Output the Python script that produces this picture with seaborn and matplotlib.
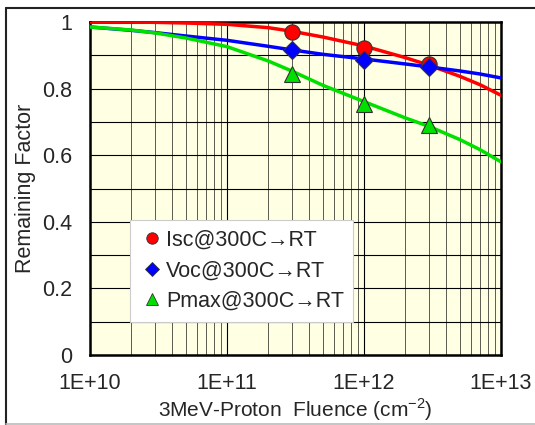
import numpy as np
import pandas as pd
import matplotlib
matplotlib.use("Agg")
import matplotlib.pyplot as plt
import seaborn as sns
from matplotlib.ticker import LogLocator, FixedLocator, NullFormatter, FuncFormatter

# measured points
fluence_pts = [3e11, 1e12, 3e12]
isc_pts = [0.970, 0.921, 0.875]
voc_pts = [0.915, 0.885, 0.866]
pmax_pts = [0.845, 0.755, 0.690]

# fitted curves
fluence_fit = [1e10, 2e10, 3e10, 5e10, 1e11, 2e11, 3e11, 5e11, 1e12, 2e12, 3e12, 5e12, 7e12, 1e13]
isc_fit = [1.000, 1.000, 0.999, 0.997, 0.993, 0.983, 0.972, 0.955, 0.928, 0.893, 0.870, 0.837, 0.812, 0.780]
voc_fit = [0.985, 0.975, 0.968, 0.958, 0.945, 0.927, 0.916, 0.903, 0.889, 0.874, 0.865, 0.853, 0.844, 0.832]
pmax_fit = [0.985, 0.976, 0.967, 0.952, 0.926, 0.883, 0.852, 0.810, 0.761, 0.712, 0.686, 0.647, 0.617, 0.580]

labels = ["Isc@300C→RT", "Voc@300C→RT", "Pmax@300C→RT"]
colors = ["#FF0000", "#0000FF", "#00E000"]
markers = ["o", "D", "^"]

sns.set_style("white")
plt.rcParams["font.family"] = ["Liberation Sans", "DejaVu Sans"]
plt.rcParams["mathtext.fontset"] = "custom"
plt.rcParams["mathtext.rm"] = "Liberation Sans"

fig = plt.figure(figsize=(5.35, 4.25), dpi=100)
ax = fig.add_axes([90 / 535, 1 - 355 / 425, 411 / 535, 333 / 425])
ax.set_facecolor("#FFFFE3")

fits = pd.DataFrame({"x": fluence_fit * 3,
                     "y": isc_fit + voc_fit + pmax_fit,
                     "s": [labels[0]] * len(fluence_fit) + [labels[1]] * len(fluence_fit) + [labels[2]] * len(fluence_fit)})
pts = pd.DataFrame({"x": fluence_pts * 3,
                    "y": isc_pts + voc_pts + pmax_pts,
                    "s": [labels[0]] * 3 + [labels[1]] * 3 + [labels[2]] * 3})

ax.set_xscale("log")
for lab, c in zip(labels, colors):
    sub = fits[fits.s == lab]
    sns.lineplot(x=sub.x, y=sub.y, ax=ax, color=c, lw=2.5, legend=False, zorder=3)

sizes = [11, 9, 11]
for lab, c, m, ms in zip(labels, colors, markers, sizes):
    sub = pts[pts.s == lab]
    ax.plot(sub.x, sub.y, ls="none", marker=m, ms=ms, mfc=c, mec="#333333", mew=0.8,
            zorder=4)

ax.set_xlim(1e10, 1e13)
ax.set_ylim(0, 1)
ax.xaxis.set_major_locator(LogLocator(base=10, numticks=10))
ax.xaxis.set_minor_locator(LogLocator(base=10, subs=np.arange(2, 10), numticks=20))
ax.xaxis.set_minor_formatter(NullFormatter())
ax.xaxis.set_major_formatter(FuncFormatter(lambda v, p: "1E+%d" % round(np.log10(v))))
ax.yaxis.set_major_locator(FixedLocator([0, 0.2, 0.4, 0.6, 0.8, 1.0]))
ax.yaxis.set_major_formatter(FuncFormatter(lambda v, p: "%g" % v))
ax.yaxis.set_minor_locator(FixedLocator([0.1, 0.3, 0.5, 0.7, 0.9]))

ax.grid(which="major", axis="both", color="black", lw=0.8)
ax.grid(which="minor", axis="x", color="#5a5a50", lw=0.7)
ax.grid(which="minor", axis="y", color="black", lw=0.8)
ax.tick_params(axis="both", which="both", direction="in", length=0, labelsize=15.5)
ax.tick_params(axis="x", pad=13)
ax.tick_params(axis="y", pad=13)

for sp in ax.spines.values():
    sp.set_color("black")
    sp.set_linewidth(1.8)

ax.set_xlabel("3MeV-Proton  Fluence (cm$^{-2}$)", fontsize=15, labelpad=2)
ax.set_ylabel("Remaining Factor", fontsize=15.5, labelpad=4)

handles = [plt.Line2D([], [], ls="none", marker=m, ms=ms * 0.75, mfc=c, mec="#333333", mew=0.6)
           for c, m, ms in zip(colors, markers, sizes)]
leg = ax.legend(handles, labels, loc="lower left", bbox_to_anchor=(0.098, 0.10),
                fontsize=15.5, frameon=True, fancybox=False, framealpha=1,
                edgecolor="#CCCCCC", handletextpad=0.1, handlelength=1.1,
                labelspacing=0.45, borderpad=0.45, borderaxespad=0)
leg.get_frame().set_linewidth(0.8)
leg.set_zorder(5)

# outer frame: top and left dark, bottom light
fig.add_artist(plt.Line2D([6 / 535, 1], [1 - 8 / 425, 1 - 8 / 425], transform=fig.transFigure,
                          color="#222222", lw=1.5))
fig.add_artist(plt.Line2D([6 / 535, 6 / 535], [0, 1 - 8 / 425], transform=fig.transFigure,
                          color="#222222", lw=1.5))
fig.add_artist(plt.Line2D([6 / 535, 1], [1 / 425, 1 / 425], transform=fig.transFigure,
                          color="#BBBBBB", lw=1.2))

fig.savefig("out.png", dpi=100)
